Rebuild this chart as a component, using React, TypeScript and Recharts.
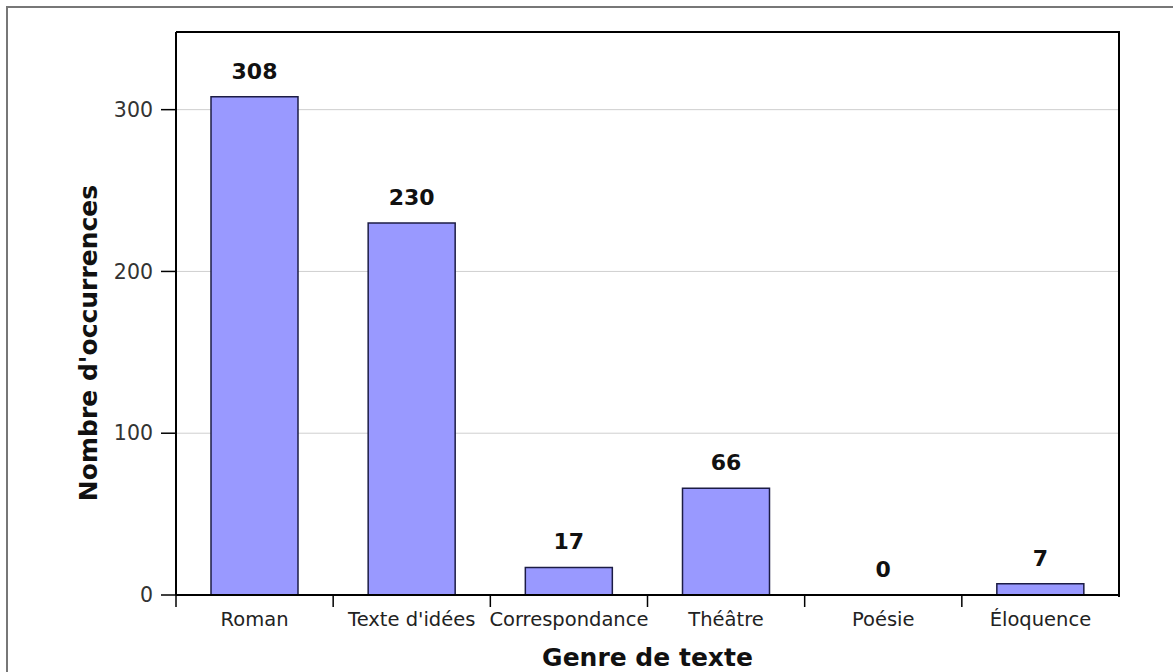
import React from "react"
import { BarChart, Bar, XAxis, YAxis, CartesianGrid, LabelList } from "recharts"

// Occurrences per text genre
const genres = ["Roman", "Texte d'idées", "Correspondance", "Théâtre", "Poésie", "Éloquence"]
const occurrences = [308, 230, 17, 66, 0, 7]
const yTicks = [0, 100, 200, 300]
const yMax = 348

const data = genres.map((genre, i) => ({ genre, value: occurrences[i] }))

// x tick: boundary tick mark on the left of each band, label in the middle
const CategoryTick = (props: any) => {
  const { x, y, payload } = props
  const half = payload.offset ?? 78.6
  const axisY = y - 12
  return (
    <g>
      <line x1={x - half} x2={x - half} y1={axisY} y2={axisY + 12} stroke="#000" strokeWidth={1.5} />
      <text x={x} y={axisY + 31} textAnchor="middle" fontSize={19.5} fill="#222">
        {payload.value}
      </text>
    </g>
  )
}

const XTitle = (props: any) => {
  const { viewBox } = props
  return (
    <text
      x={viewBox.x + viewBox.width / 2}
      y={viewBox.y + 71}
      textAnchor="middle"
      fontSize={25}
      fontWeight="bold"
      fill="#111"
    >
      Genre de texte
    </text>
  )
}

const YTitle = (props: any) => {
  const { viewBox } = props
  const cx = viewBox.x + 12
  const cy = viewBox.y + 311
  return (
    <text
      x={cx}
      y={cy}
      transform={`rotate(-90, ${cx}, ${cy})`}
      textAnchor="middle"
      dominantBaseline="central"
      fontSize={25}
      fontWeight="bold"
      fill="#111"
    >
      Nombre d'occurrences
    </text>
  )
}

export default function App() {
  return (
    <div
      style={{
        position: "fixed",
        left: 0,
        top: 0,
        width: 1173,
        height: 672,
        background: "#fff",
        fontFamily: "'DejaVu Sans', sans-serif",
      }}
    >
      <div
        style={{
          position: "absolute",
          left: 6,
          top: 6,
          right: -10,
          bottom: -10,
          borderLeft: "2px solid #777",
          borderTop: "2px solid #777",
        }}
      />
      <BarChart
        width={1173}
        height={672}
        data={data}
        margin={{ top: 32, right: 54, bottom: 10, left: 76 }}
        style={{ position: "absolute", left: 0, top: 0 }}
      >
        <CartesianGrid vertical={false} stroke="#cfcfcf" strokeWidth={1} />
        <XAxis
          dataKey="genre"
          height={67}
          axisLine={{ stroke: "#000", strokeWidth: 2 }}
          tickLine={false}
          tickSize={12}
          tickMargin={0}
          interval={0}
          tick={<CategoryTick />}
          label={<XTitle />}
        />
        <YAxis
          width={100}
          domain={[0, yMax]}
          ticks={yTicks}
          allowDataOverflow
          axisLine={{ stroke: "#000", strokeWidth: 2 }}
          tickLine={{ stroke: "#000", strokeWidth: 1.5 }}
          tickSize={15}
          tickMargin={8}
          tick={{ fontSize: 20.5, fill: "#333" }}
          label={<YTitle />}
        />
        <Bar
          dataKey="value"
          barSize={87}
          fill="#9999ff"
          stroke="#1c1c44"
          strokeWidth={1.5}
          minPointSize={(v: number) => (v === 0 ? 0.01 : 0)}
          isAnimationActive={false}
        >
          <LabelList
            dataKey="value"
            position="top"
            offset={18}
            fontSize={22}
            fontWeight="bold"
            fill="#111"
          />
        </Bar>
      </BarChart>
      {/* top and right frame of the plot box */}
      <div
        style={{
          position: "absolute",
          left: 176,
          top: 31,
          width: 942,
          height: 564,
          borderTop: "2px solid #000",
          borderRight: "2px solid #000",
          pointerEvents: "none",
        }}
      />
    </div>
  )
}
